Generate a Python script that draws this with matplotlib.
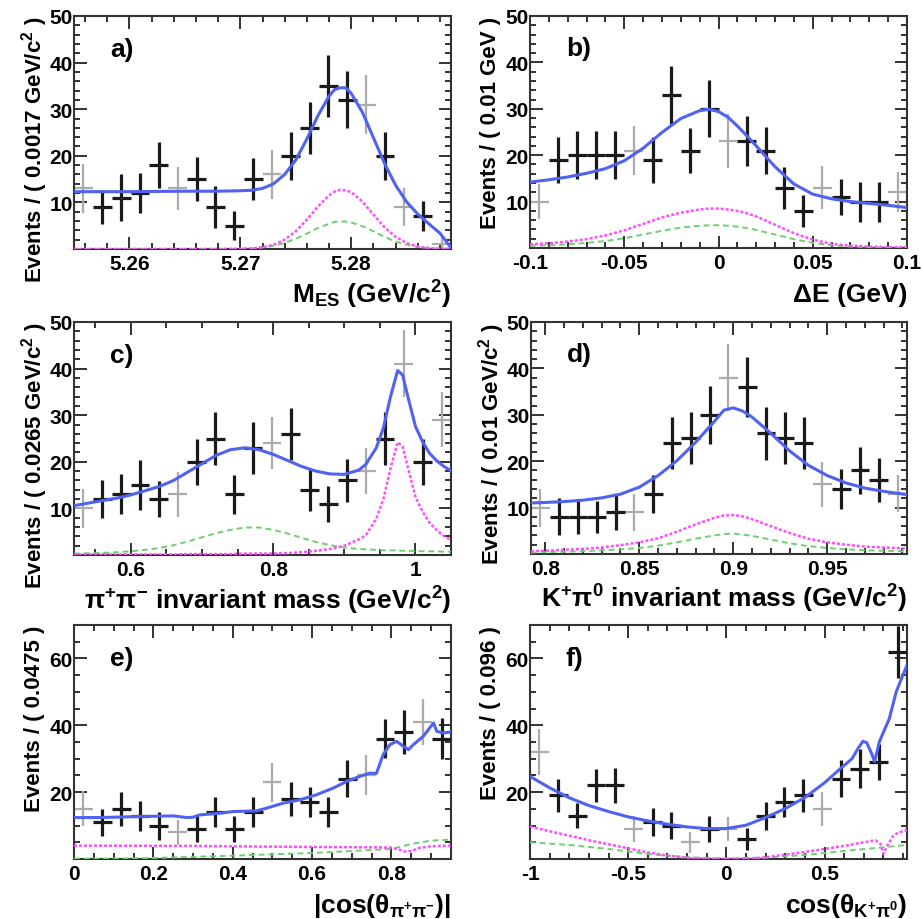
"""Six projections of the fit: M_ES, Delta E, the two resonance masses and the
two helicity angles, with data points and the fitted total / component curves.
"""
import numpy as np
import matplotlib
matplotlib.use("Agg")
import matplotlib.pyplot as plt
from matplotlib.ticker import MultipleLocator, FuncFormatter

plt.rcParams.update({
    "font.family": ["Liberation Sans", "DejaVu Sans"],
    "font.weight": "bold",
    "mathtext.fontset": "custom",
    "mathtext.rm": "Liberation Sans:bold",
    "mathtext.it": "Liberation Sans:bold:italic",
    "mathtext.bf": "Liberation Sans:bold",
    "mathtext.default": "rm",
    "axes.unicode_minus": False,
})

# ---------------- a) M_ES ----------------
mes_lo, mes_w = 5.255, 0.0017
mes_counts = [13, 9, 11, 12, 18, 13, 15, 9, 5, 15, 16, 20, 26, 35, 32, 31, 20, 9, 7, 1]
mes_errs = [5.2, 3.6, 5.0, 4.3, 4.9, 4.7, 4.7, 4.5, 3.1, 4.5, 5.2, 5.2, 5.6, 6.7, 6.1, 6.3, 5.2, 4.1, 3.2, 1.8]
mes_grey = [0, 5, 10, 15, 17, 19]
mes_fx = [5.255, 5.260, 5.265, 5.268, 5.270, 5.271, 5.272, 5.273, 5.274, 5.275, 5.276, 5.277, 5.278,
          5.2785, 5.279, 5.2795, 5.280, 5.281, 5.282, 5.283, 5.284, 5.285, 5.286, 5.287, 5.288, 5.289]
mes_tot = [12.3, 12.3, 12.4, 12.4, 12.5, 12.6, 13.0, 14.0, 16.0, 19.1, 23.6, 28.6, 32.8,
           34.2, 34.6, 34.6, 33.4, 29.4, 23.9, 18.4, 13.7, 10.1, 7.5, 5.4, 3.4, 0.3]
mes_sig = [0.0, 0.0, 0.0, 0.0, 0.04, 0.13, 0.36, 0.91, 2.0, 3.8, 6.3, 9.1, 11.5,
           12.3, 12.7, 12.6, 12.2, 10.2, 7.4, 4.7, 2.6, 1.3, 0.5, 0.2, 0.06, 0.02]
mes_oth = [0.0, 0.0, 0.0, 0.0, 0.05, 0.14, 0.33, 0.7, 1.3, 2.2, 3.3, 4.5, 5.4,
           5.8, 5.9, 5.9, 5.7, 4.9, 3.8, 2.6, 1.6, 0.9, 0.45, 0.2, 0.08, 0.03]

# ---------------- b) Delta E ----------------
de_lo, de_w = -0.1, 0.01
de_counts = [10, 19, 20, 20, 20, 21, 19, 33, 21, 30, 23, 23, 21, 13, 8, 13, 11, 10, 10, 12]
de_errs = [3.8, 4.9, 5.2, 5.2, 5.2, 5.3, 5.0, 6.3, 4.9, 6.1, 5.8, 5.4, 5.0, 4.5, 3.4, 4.7, 3.8, 4.3, 4.3, 4.3]
de_grey = [0, 5, 10, 15, 19]
de_fx = [-0.1, -0.09, -0.08, -0.07, -0.06, -0.05, -0.04, -0.03, -0.02, -0.01, -0.005, 0.0,
         0.005, 0.01, 0.015, 0.02, 0.03, 0.04, 0.05, 0.06, 0.07, 0.08, 0.09, 0.1]
de_tot = [14.2, 14.7, 15.3, 16.1, 17.1, 18.8, 21.5, 24.9, 27.9, 29.6, 29.9, 29.4,
          28.2, 26.3, 24.2, 22.0, 17.5, 13.8, 11.6, 10.6, 10.0, 9.6, 9.2, 8.7]
de_sig = [0.8, 1.0, 1.4, 1.9, 2.7, 3.8, 5.2, 6.6, 7.6, 8.3, 8.5, 8.5,
          8.3, 8.0, 7.5, 6.8, 5.0, 3.2, 1.8, 0.9, 0.5, 0.3, 0.2, 0.2]
de_oth = [0.5, 0.6, 0.8, 1.1, 1.5, 2.1, 2.9, 3.7, 4.4, 4.8, 4.9, 4.9,
          4.8, 4.6, 4.3, 3.9, 2.9, 1.9, 1.1, 0.6, 0.3, 0.2, 0.1, 0.1]

# ---------------- c) pi+ pi- mass ----------------
mpp_lo, mpp_w = 0.52, 0.0265
mpp_counts = [10, 12, 13, 15, 12, 13, 20, 25, 13, 23, 24, 26, 14, 11, 16, 18, 25, 41, 20, 29]
mpp_errs = [4.1, 4.1, 4.3, 5.4, 3.9, 4.8, 5.0, 5.6, 4.1, 5.6, 5.6, 5.6, 4.5, 3.9, 4.7, 5.0, 5.6, 7.2, 5.0, 5.9]
mpp_grey = [0, 5, 10, 15, 17, 19]
mpp_fx = [0.52, 0.55, 0.58, 0.60, 0.62, 0.64, 0.66, 0.68, 0.70, 0.72, 0.74, 0.76, 0.78, 0.80,
          0.82, 0.84, 0.86, 0.88, 0.90, 0.92, 0.93, 0.945, 0.955, 0.965, 0.975, 0.982, 0.99,
          1.00, 1.01, 1.02, 1.03, 1.04, 1.05]
mpp_tot = [10.6, 11.4, 12.2, 12.9, 13.8, 14.7, 16.0, 17.8, 19.6, 21.4, 22.6, 23.0, 22.6, 21.6,
           20.3, 19.0, 18.0, 17.4, 17.3, 18.2, 19.4, 23.0, 27.3, 34.0, 39.6, 38.6, 33.6,
           27.6, 24.3, 21.8, 20.2, 19.0, 18.1]
mpp_sig = [0.1, 0.1, 0.1, 0.1, 0.1, 0.1, 0.1, 0.2, 0.2, 0.2, 0.2, 0.3, 0.3, 0.3,
           0.4, 0.6, 0.9, 1.3, 2.0, 3.3, 4.2, 7.8, 12.0, 18.6, 24.2, 23.3, 18.4,
           12.5, 9.3, 6.9, 5.3, 4.1, 3.2]
mpp_oth = [0.3, 0.4, 0.6, 0.8, 1.1, 1.5, 2.1, 2.9, 3.8, 4.7, 5.4, 5.9, 5.9, 5.4,
           4.6, 3.7, 2.8, 2.1, 1.6, 1.3, 1.2, 1.1, 1.0, 1.0, 1.0, 0.9, 0.9,
           0.9, 0.8, 0.8, 0.8, 0.7, 0.7]

# ---------------- d) K+ pi0 mass ----------------
mkp_lo, mkp_w = 0.7924, 0.01
mkp_counts = [10, 8, 8, 8, 9, 9, 13, 24, 25, 30, 38, 36, 26, 25, 24, 15, 14, 18, 16, 13]
mkp_errs = [4.1, 4.0, 3.6, 3.4, 3.8, 4.0, 4.1, 5.6, 5.6, 6.2, 7.2, 6.4, 5.7, 5.6, 5.6, 4.9, 4.3, 5.0, 4.7, 4.0]
mkp_grey = [0, 5, 10, 15, 19]
mkp_fx = [0.7924, 0.80, 0.81, 0.82, 0.83, 0.84, 0.85, 0.86, 0.87, 0.88, 0.89, 0.895, 0.90,
          0.905, 0.91, 0.92, 0.93, 0.94, 0.95, 0.96, 0.97, 0.98, 0.9924]
mkp_tot = [11.0, 11.1, 11.3, 11.6, 12.1, 12.9, 14.4, 16.9, 20.1, 24.1, 28.6, 31.0, 31.5,
           30.8, 29.5, 26.0, 22.2, 19.1, 16.9, 15.3, 14.2, 13.5, 12.8]
mkp_sig = [0.6, 0.7, 0.9, 1.1, 1.4, 1.9, 2.5, 3.4, 4.8, 6.4, 7.8, 8.3, 8.4,
           8.1, 7.5, 6.0, 4.5, 3.3, 2.5, 2.0, 1.6, 1.4, 1.2]
mkp_oth = [0.3, 0.4, 0.5, 0.6, 0.8, 1.0, 1.3, 1.8, 2.5, 3.3, 4.0, 4.3, 4.4,
           4.2, 3.9, 3.1, 2.3, 1.7, 1.3, 1.0, 0.8, 0.7, 0.6]

# ---------------- e) |cos(theta_pipi)| ----------------
che_lo, che_w = 0.0, 0.0475
che_counts = [15, 11, 15, 13, 10, 8, 9, 14, 9, 14, 23, 18, 17, 14, 24, 25, 36, 38, 41, 36]
che_errs = [5.2, 4.0, 5.0, 4.5, 4.2, 3.8, 3.8, 4.5, 3.8, 4.5, 5.8, 5.0, 4.5, 4.5, 5.5, 6.0, 5.8, 6.5, 7.0, 6.2]
che_grey = [0, 5, 10, 15, 18]
che_tot_x = [0.0, 0.066, 0.166, 0.25, 0.284, 0.30, 0.317, 0.36, 0.401, 0.46, 0.485, 0.527, 0.569,
             0.611, 0.653, 0.687, 0.72, 0.746, 0.762, 0.779, 0.796, 0.813, 0.83, 0.843, 0.855,
             0.88, 0.906, 0.914, 0.93, 0.95]
che_tot = [12.4, 12.4, 12.7, 12.9, 12.4, 12.5, 13.2, 13.6, 14.2, 14.4, 15.2, 16.7, 17.7,
           19.2, 21.2, 23.2, 24.7, 25.7, 25.6, 31.2, 34.2, 35.2, 33.7, 32.7, 34.2,
           36.7, 40.7, 38.2, 37.7, 38.0]
che_sig_x = [0.0, 0.3, 0.6, 0.75, 0.8, 0.82, 0.835, 0.85, 0.87, 0.9, 0.95]
che_sig = [4.0, 3.9, 3.6, 3.5, 3.4, 2.8, 2.2, 2.4, 3.3, 3.8, 4.0]
che_oth_x = [0.0, 0.1, 0.2, 0.4, 0.6, 0.8, 0.85, 0.9, 0.95]
che_oth = [0.1, 0.1, 0.3, 1.0, 1.8, 3.0, 4.5, 5.5, 5.8]

# ---------------- f) cos(theta_Kpi0) ----------------
chk_lo, chk_w = -1.0, 0.096
chk_counts = [32, 19, 13, 22, 22, 9, 11, 10, 5, 9, 9, 6, 13, 17, 19, 15, 24, 27, 29, 62]
chk_errs = [7.0, 4.8, 3.8, 5.0, 5.2, 3.8, 4.2, 4.0, 3.2, 3.8, 3.5, 3.2, 4.2, 4.5, 4.8, 5.0, 5.5, 5.8, 5.5, 7.8]
chk_grey = [0, 5, 8, 10, 15]
chk_tot_x = [-1.0, -0.9, -0.8, -0.7, -0.6, -0.5, -0.4, -0.3, -0.2, -0.1, 0.0, 0.1, 0.2, 0.3,
             0.4, 0.5, 0.58, 0.64, 0.67, 0.695, 0.715, 0.74, 0.755, 0.78, 0.83, 0.865, 0.89, 0.92]
chk_tot = [24.7, 21.3, 18.3, 16.0, 14.2, 12.6, 11.4, 10.4, 9.6, 9.1, 9.1, 10.1, 12.4, 15.1,
           18.4, 22.8, 27.0, 30.0, 33.0, 35.2, 34.8, 31.5, 29.2, 35.2, 42.0, 50.0, 53.7, 58.0]
chk_sig_x = [-1.0, -0.9, -0.8, -0.7, -0.6, -0.5, -0.4, -0.3, -0.2, -0.1, 0.0, 0.1, 0.2, 0.3,
             0.4, 0.5, 0.6, 0.7, 0.76, 0.785, 0.80, 0.82, 0.85, 0.88, 0.92]
chk_sig = [9.7, 8.3, 7.0, 5.6, 4.4, 3.2, 2.0, 1.0, 0.4, 0.1, 0.0, 0.1, 0.5, 1.3,
           2.1, 3.0, 3.9, 5.0, 5.6, 4.5, 1.5, 4.0, 7.0, 8.0, 8.6]
chk_oth_x = [-1.0, -0.8, -0.6, -0.4, -0.2, 0.0, 0.2, 0.4, 0.6, 0.8, 0.92]
chk_oth = [5.0, 4.2, 3.0, 1.5, 0.5, 0.2, 0.4, 1.2, 2.4, 3.5, 4.2]

NBINS = 20
C_DATA, C_GREY = "#1a1a1a", "#ababab"
C_TOT, C_SIG, C_OTH = "#5062f2", "#ff4dff", "#6fcf6f"


def panel(ax, lo, w, counts, errs, grey, tot, sig, oth, ymax, xmaj, xmin, ymaj, ymin,
          tag, xlabel, ylabel):
    counts = np.asarray(counts, float); errs = np.asarray(errs, float)
    xc = lo + w * (np.arange(NBINS) + 0.5)
    g = np.zeros(NBINS, bool); g[grey] = True
    ax.errorbar(xc[g], counts[g], xerr=w / 2, yerr=errs[g], fmt="none",
                ecolor=C_GREY, elinewidth=1.6, capsize=0, zorder=2)
    ax.errorbar(xc[~g], counts[~g], xerr=w / 2, yerr=errs[~g], fmt="none",
                ecolor=C_DATA, elinewidth=2.3, capsize=0, zorder=3)
    ax.plot(*oth, color=C_OTH, lw=1.4, ls=(0, (3, 2)), zorder=4)
    ax.plot(*sig, color=C_SIG, lw=1.8, ls=(0, (1.2, 0.8)), zorder=4)
    ax.plot(*tot, color=C_TOT, lw=2.2, zorder=5)

    ax.set_xlim(lo, lo + NBINS * w); ax.set_ylim(0, ymax)
    ax.xaxis.set_major_locator(MultipleLocator(xmaj))
    ax.xaxis.set_minor_locator(MultipleLocator(xmin))
    ax.set_yticks(np.arange(ymaj, ymax + 0.1, ymaj))
    ax.yaxis.set_minor_locator(MultipleLocator(ymin))
    ax.xaxis.set_major_formatter(FuncFormatter(lambda v, p: f"{v:g}"))
    ax.tick_params(which="both", direction="in", top=True, right=True, width=1.3,
                   color="#222222", labelsize=15)
    ax.tick_params(which="major", length=9)
    ax.tick_params(which="minor", length=4.5)
    ax.tick_params(axis="x", pad=3.5)
    ax.tick_params(axis="y", pad=1)
    for s in ax.spines.values():
        s.set_linewidth(1.5); s.set_color("#333333")

    ax.text(0.095, 0.86, tag, transform=ax.transAxes, fontsize=19, ha="left", va="center")
    ax.text(1.0, -0.228, xlabel, transform=ax.transAxes, fontsize=19, ha="right", va="baseline")
    ax.text(-0.105, 1.0, ylabel, transform=ax.transAxes, fontsize=16, rotation=90,
            ha="center", va="top")


fig = plt.figure(figsize=(9.21, 9.20), dpi=100)
W, H = 921.0, 920.0


def add_axes(l, t, r, b):
    return fig.add_axes([l / W, 1 - b / H, (r - l) / W, (b - t) / H])


ax_a = add_axes(74, 17, 451, 250)
ax_b = add_axes(530, 17, 907, 249)
ax_c = add_axes(74, 323, 451, 556)
ax_d = add_axes(531, 323, 907, 555)
ax_e = add_axes(74, 626, 451, 860)
ax_f = add_axes(530, 626, 907, 860)

panel(ax_a, mes_lo, mes_w, mes_counts, mes_errs, mes_grey,
      (mes_fx, mes_tot), (mes_fx, mes_sig), (mes_fx, mes_oth), 50, 0.01, 0.002, 10, 2,
      "a)", r"M$_{\mathrm{ES}}$ (GeV/c$^{2}$)", r"Events / ( 0.0017 GeV/c$^{2}$ )")
panel(ax_b, de_lo, de_w, de_counts, de_errs, de_grey,
      (de_fx, de_tot), (de_fx, de_sig), (de_fx, de_oth), 50, 0.05, 0.01, 10, 2,
      "b)", "ΔE (GeV)", "Events / ( 0.01 GeV )")
panel(ax_c, mpp_lo, mpp_w, mpp_counts, mpp_errs, mpp_grey,
      (mpp_fx, mpp_tot), (mpp_fx, mpp_sig), (mpp_fx, mpp_oth), 50, 0.2, 0.05, 10, 2,
      "c)", r"π$^{+}$π$^{-}$ invariant mass (GeV/c$^{2}$)", r"Events / ( 0.0265 GeV/c$^{2}$ )")
panel(ax_d, mkp_lo, mkp_w, mkp_counts, mkp_errs, mkp_grey,
      (mkp_fx, mkp_tot), (mkp_fx, mkp_sig), (mkp_fx, mkp_oth), 50, 0.05, 0.01, 10, 2,
      "d)", r"K$^{+}$π$^{0}$ invariant mass (GeV/c$^{2}$)", r"Events / ( 0.01 GeV/c$^{2}$ )")
panel(ax_e, che_lo, che_w, che_counts, che_errs, che_grey,
      (che_tot_x, che_tot), (che_sig_x, che_sig), (che_oth_x, che_oth), 70, 0.2, 0.05, 20, 5,
      "e)", r"|cos(θ$_{\mathrm{π^{+}π^{-}}}$)|", "Events / ( 0.0475 )")
panel(ax_f, chk_lo, chk_w, chk_counts, chk_errs, chk_grey,
      (chk_tot_x, chk_tot), (chk_sig_x, chk_sig), (chk_oth_x, chk_oth), 70, 0.5, 0.1, 20, 5,
      "f)", r"cos(θ$_{\mathrm{K^{+}π^{0}}}$)", "Events / ( 0.096 )")

fig.savefig("out.png", dpi=100)
